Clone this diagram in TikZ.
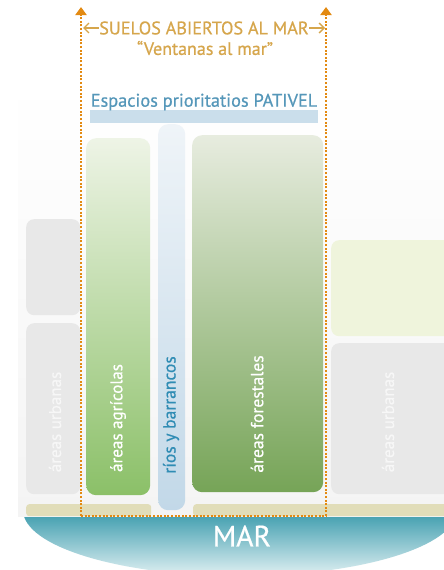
\documentclass[tikz,border=0pt]{standalone}
\usepackage{fontspec}
\setmainfont{PT Sans}[FakeBold=0.6]
\newfontfamily\medfont{PT Sans}[FakeBold=0.6]
\usetikzlibrary{arrows.meta}
\definecolor{orangec}{HTML}{E38A12}
\definecolor{goldc}{HTML}{D6A64C}
\definecolor{bluet}{HTML}{5597B9}
\definecolor{barc}{HTML}{CADEEB}
\definecolor{agritop}{HTML}{EEF4E6}
\definecolor{agribot}{HTML}{8BC068}
\definecolor{fortop}{HTML}{E7ECDF}
\definecolor{forbot}{HTML}{76A457}
\definecolor{rivtop}{HTML}{EFF4F8}
\definecolor{rivbot}{HTML}{C2D8E8}
\definecolor{rivtext}{HTML}{2F8CB4}
\definecolor{urbc}{HTML}{E8E8E8}
\definecolor{urbtext}{HTML}{F7F7F7}
\definecolor{yelc}{HTML}{EFF4DC}
\definecolor{beigec}{HTML}{E1DDB9}
\definecolor{seatop}{HTML}{4AA3B3}
\definecolor{seabot}{HTML}{E6F3F5}
\definecolor{bgc}{HTML}{F4F4F4}
\tikzset{
  orangedot/.style={draw=orangec, line width=2.2pt, dash pattern=on 2pt off 1.6pt},
  boxnode/.style={rectangle, rounded corners=10pt, inner sep=0pt, anchor=north west, draw=none},
  vlabel/.style={rotate=90, font=\medfont\fontsize{17.5}{19}\selectfont, text=white, inner sep=0pt},
  goldarrow/.style={draw=goldc, line width=1.4pt, -{Straight Barb[length=5pt,width=10pt]}},
}
\begin{document}
\begin{tikzpicture}[x=1pt,y=-1pt]
\useasboundingbox (0,0) rectangle (444,570);
\fill[white] (0,0) rectangle (444,570);
\begin{scope}
\clip (0,0) rectangle (444,570);
% background
\shade[top color=white, bottom color=bgc] (18,80) rectangle (444,516);
% urban and other background blocks
\node[boxnode, fill=urbc, minimum width=54, minimum height=96, rounded corners=8pt] (urbL1) at (26,219) {};
\node[boxnode, fill=urbc, minimum width=54, minimum height=171, rounded corners=8pt] (urbL2) at (26,323) {};
\node[boxnode, fill=yelc, minimum width=130, minimum height=96, rounded corners=8pt] (yelR) at (331,240) {};
\node[boxnode, fill=urbc, minimum width=130, minimum height=151, rounded corners=8pt] (urbR) at (331,343) {};
% beige strips
\node[boxnode, fill=beigec, minimum width=125, minimum height=12, rounded corners=3pt] (beL) at (26,504) {};
\node[boxnode, fill=beigec, minimum width=270, minimum height=12, rounded corners=3pt] (beR) at (193,504) {};
% main boxes
\node[boxnode, top color=agritop, bottom color=agribot, minimum width=64, minimum height=357] (agri) at (86,138) {};
\node[boxnode, top color=rivtop, bottom color=rivbot, minimum width=27, minimum height=386] (riv) at (158,124) {};
\node[boxnode, top color=fortop, bottom color=forbot, minimum width=131, minimum height=357] (for) at (192,135) {};
% bar
\node[rectangle, anchor=north west, fill=barc, minimum width=228, minimum height=13, inner sep=0pt] (bar) at (90,110) {};
% labels
\node[vlabel, text=urbtext, font=\medfont\fontsize{17}{19}\selectfont] (tU1) at (55,422) {áreas urbanas};
\node[vlabel, text=urbtext, font=\medfont\fontsize{17}{19}\selectfont] (tU2) at (388,422) {áreas urbanas};
\node[vlabel, font=\medfont\fontsize{17}{19}\selectfont] (tA) at (118,418) {áreas agrícolas};
\node[vlabel, text=rivtext] (tR) at (171,415) {ríos y barrancos};
\node[vlabel] (tF) at (257,414) {áreas forestales};
% sea
\begin{scope}
\clip (240,510) ellipse [x radius=217, y radius=66];
\shade[top color=seatop, bottom color=seabot] (0,517) rectangle (460,578);
\end{scope}
\node[text=white, font=\medfont\fontsize{29.5}{31}\selectfont] (mar) at (242,536) {MAR};
% dotted frame
\coordinate (Lb) at (81,516);
\coordinate (Rb) at (326,516);
\coordinate (Lt) at (81,7);
\coordinate (Rt) at (326,7);
\draw[orangedot, -{Triangle[length=8pt,width=11pt]}] (Lb) -- (Lt);
\draw[orangedot, -{Triangle[length=8pt,width=11pt]}] (Rb) -- (Rt);
\draw[orangedot] (Lb) -- (Rb);
% titles
\node[text=goldc, font=\medfont\fontsize{18.2}{20}\selectfont, inner sep=0.5pt] (title) at (204,28) {SUELOS ABIERTOS AL MAR};
\node[text=goldc, font=\medfont\fontsize{18}{20}\selectfont] (sub) at (205,48) {“Ventanas al mar”};
\coordinate (aL) at (83,28);
\coordinate (aR) at (325,28);
\draw[goldarrow] (title.west) -- (aL);
\draw[goldarrow] (title.east) -- (aR);
\node[text=bluet, font=\medfont\fontsize{18.3}{20}\selectfont] (pat) at (204,102) {Espacios prioritatios PATIVEL};
\end{scope}
\end{tikzpicture}
\end{document}
